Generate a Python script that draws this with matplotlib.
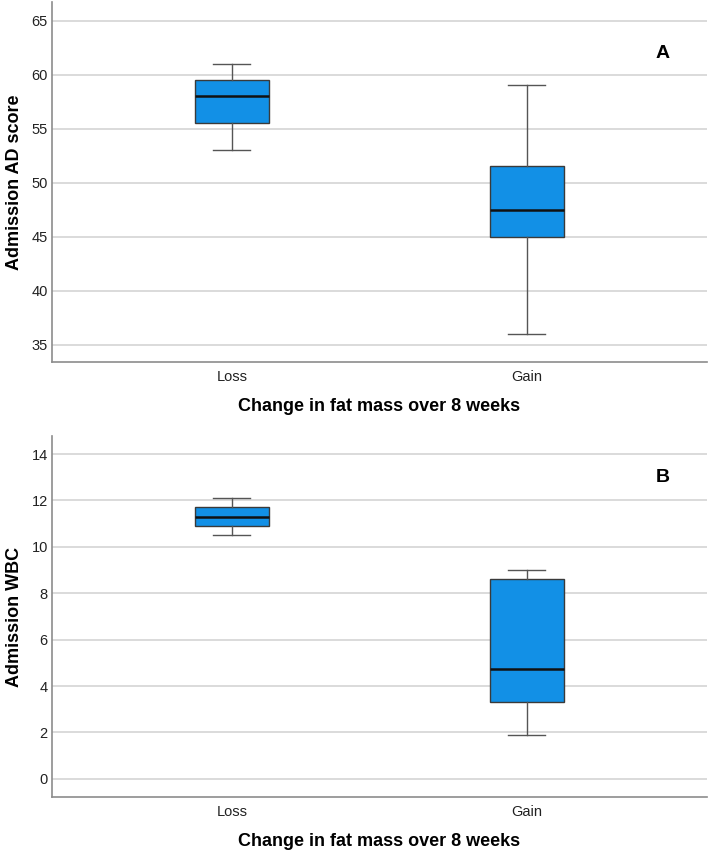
import matplotlib
matplotlib.use("Agg")
import matplotlib.pyplot as plt

plt.rcParams['font.family'] = ['Liberation Sans', 'DejaVu Sans']

groups = ['Loss', 'Gain']

# panel A: Admission AD score
ad_whislo = [53.0, 36.0]
ad_q1 = [55.5, 45.0]
ad_med = [58.0, 47.5]
ad_q3 = [59.5, 51.5]
ad_whishi = [61.0, 59.0]

# panel B: Admission WBC
wbc_whislo = [10.5, 1.9]
wbc_q1 = [10.9, 3.33]
wbc_med = [11.3, 4.72]
wbc_q3 = [11.7, 8.6]
wbc_whishi = [12.12, 9.02]

box_color = '#1290e6'
grid_color = '#d4d4d4'
spine_color = '#8c8c8c'


def make_stats(lo, q1, med, q3, hi):
    stats = []
    for i in range(len(groups)):
        stats.append({'whislo': lo[i], 'q1': q1[i], 'med': med[i],
                      'q3': q3[i], 'whishi': hi[i], 'fliers': [],
                      'label': groups[i]})
    return stats


def draw_panel(ax, stats, ylabel, yticks, ylim, letter, letter_y):
    ax.bxp(stats, positions=[0, 1], widths=0.25, patch_artist=True,
           showfliers=False,
           boxprops=dict(facecolor=box_color, edgecolor='#3a3a3a', linewidth=1.0),
           medianprops=dict(color='#111111', linewidth=1.8),
           whiskerprops=dict(color='#555555', linewidth=1.0),
           capprops=dict(color='#555555', linewidth=1.0),
           capwidths=0.125, zorder=3)
    ax.set_xlim(-0.61, 1.61)
    ax.set_ylim(*ylim)
    ax.set_yticks(yticks)
    ax.yaxis.grid(True, color=grid_color, linewidth=1.2, zorder=0)
    ax.set_axisbelow(True)
    for s in ['top', 'right']:
        ax.spines[s].set_visible(False)
    for s in ['left', 'bottom']:
        ax.spines[s].set_color(spine_color)
        ax.spines[s].set_linewidth(1.2)
    ax.tick_params(axis='y', length=0, labelsize=10.5, colors='#222222', pad=3)
    ax.tick_params(axis='x', length=0, labelsize=10.5, colors='#222222', pad=6)
    ax.set_ylabel(ylabel, fontsize=13, fontweight='bold', labelpad=6)
    ax.set_xlabel('Change in fat mass over 8 weeks', fontsize=13,
                  fontweight='bold', labelpad=10)
    ax.text(0.932, letter_y, letter, transform=ax.transAxes, fontsize=14,
            fontweight='bold', ha='center', va='center')


fig = plt.figure(figsize=(7.08, 8.5), dpi=100)
ax1 = fig.add_axes([0.0734, 0.574, 0.925, 0.4235])
ax2 = fig.add_axes([0.0734, 0.0624, 0.925, 0.4247])

draw_panel(ax1, make_stats(ad_whislo, ad_q1, ad_med, ad_q3, ad_whishi),
           'Admission AD score', [35, 40, 45, 50, 55, 60, 65], (33.4, 66.7), 'A', 0.858)
draw_panel(ax2, make_stats(wbc_whislo, wbc_q1, wbc_med, wbc_q3, wbc_whishi),
           'Admission WBC', [0, 2, 4, 6, 8, 10, 12, 14], (-0.78, 14.78), 'B', 0.886)

fig.savefig('out.png', dpi=100)
